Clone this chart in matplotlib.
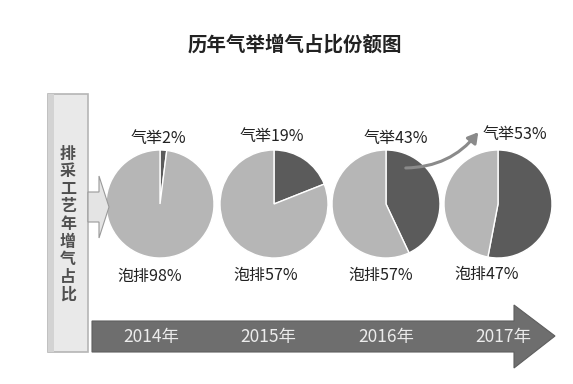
import matplotlib
matplotlib.use("Agg")
import matplotlib.pyplot as plt
from matplotlib.patches import Polygon, FancyArrowPatch, FancyBboxPatch

plt.rcParams['font.family'] = ['Noto Sans CJK SC', 'DejaVu Sans']

years = ["2014年", "2015年", "2016年", "2017年"]
gas_lift = [2, 19, 43, 53]          # 气举 share (dark wedge)
foam = [98, 81, 57, 47]             # 泡排 share (light wedge)
gas_labels = ["气举2%", "气举19%", "气举43%", "气举53%"]
foam_labels = ["泡排98%", "泡排57%", "泡排57%", "泡排47%"]
title = "历年气举增气占比份额图"
side_text = "排采工艺年增气占比"

W, H = 573, 384
fig = plt.figure(figsize=(W / 100, H / 100), dpi=100)
ax = fig.add_axes([0, 0, 1, 1])

def Y(y):
    return H - y

dark = "#5b5b5b"
light = "#b6b6b6"

cx = [160, 274, 386, 498]
cy = 204
r = 54
gas_pos = [(158, 138), (272, 137), (396, 138), (515, 135)]
foam_pos = [(150, 276), (266, 275), (381, 275), (487, 274)]

for i in range(len(years)):
    ax.pie([gas_lift[i], foam[i]], colors=[dark, light], startangle=90,
           counterclock=False, center=(cx[i], Y(cy)), radius=r, frame=True,
           wedgeprops=dict(edgecolor="white", linewidth=1.0))
    ax.text(gas_pos[i][0], Y(gas_pos[i][1]), gas_labels[i], ha="center",
            va="center", fontsize=11.5, color="#222222")
    ax.text(foam_pos[i][0], Y(foam_pos[i][1]), foam_labels[i], ha="center",
            va="center", fontsize=11.5, color="#222222")

# title
ax.text(295, Y(45), title, ha="center", va="center", fontsize=14,
        fontweight="bold", color="#222222")

# left vertical box
box = FancyBboxPatch((48, Y(352)), 40, 258, boxstyle="square,pad=0",
                     facecolor="#e9e9e9", edgecolor="#b5b5b5", linewidth=1.2)
ax.add_patch(box)
ax.add_patch(FancyBboxPatch((48, Y(352)), 6, 258, boxstyle="square,pad=0",
                            facecolor="#d3d3d3", edgecolor="none"))
ax.text(68, Y(224), "\n".join(side_text), ha="center", va="center",
        fontsize=11.5, color="#505050", fontweight="bold", linespacing=1.12)

# small arrow from box
small = Polygon([(88, Y(192)), (99, Y(192)), (99, Y(176)), (109, Y(207)),
                 (99, Y(238)), (99, Y(222)), (88, Y(222))], closed=True,
                facecolor="#e4e4e4", edgecolor="#9a9a9a", linewidth=0.8)
ax.add_patch(small)

# timeline arrow
tl = Polygon([(92, Y(321)), (514, Y(321)), (514, Y(305)), (555, Y(336)),
              (514, Y(368)), (514, Y(352)), (92, Y(352))], closed=True,
             facecolor="#6e6e6e", edgecolor="#5e5e5e", linewidth=0.8)
ax.add_patch(tl)
tx = [151, 268, 386, 503]
for i, yr in enumerate(years):
    ax.text(tx[i], Y(337), yr, ha="center", va="center", fontsize=12.5,
            color="#ececec")

# curved arrow between 2016 and 2017
arr = FancyArrowPatch((403, Y(168)), (480, Y(130)),
                      connectionstyle="arc3,rad=0.25",
                      arrowstyle="-|>,head_length=6,head_width=3.5",
                      color="#8a8a8a", linewidth=2.2)
ax.add_patch(arr)

ax.set_xlim(0, W)
ax.set_ylim(0, H)
ax.set_aspect("auto")
ax.axis("off")
fig.savefig("out.png", dpi=100, facecolor="white")
